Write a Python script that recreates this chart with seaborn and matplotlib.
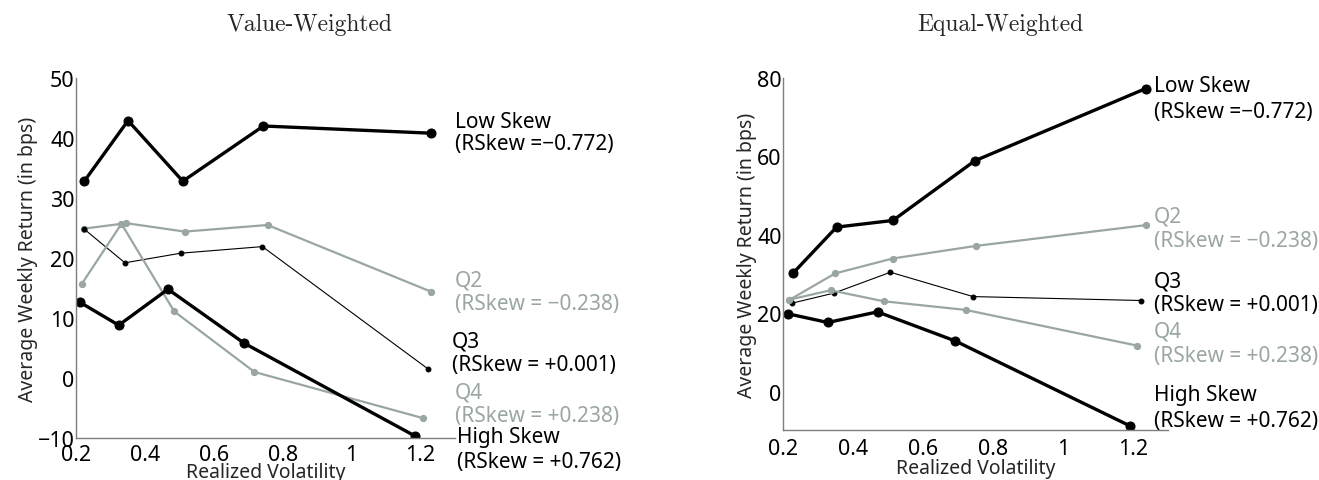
import matplotlib
matplotlib.use("Agg")
import matplotlib.pyplot as plt
import seaborn as sns
import pandas as pd

GRAY = "#9aa6a4"
SPINE = "#7f7f7f"

SERIES = ["Low Skew", "Q2", "Q3", "Q4", "High Skew"]
SKEW_LABELS = ["(RSkew =\u22120.772)", "(RSkew = \u22120.238)", "(RSkew = +0.001)",
               "(RSkew = +0.238)", "(RSkew = +0.762)"]

# value-weighted panel
vw_x = {
    "Low Skew": [0.224, 0.351, 0.510, 0.744, 1.231],
    "Q2": [0.224, 0.346, 0.516, 0.756, 1.230],
    "Q3": [0.222, 0.342, 0.504, 0.741, 1.222],
    "Q4": [0.217, 0.332, 0.485, 0.718, 1.208],
    "High Skew": [0.212, 0.324, 0.467, 0.688, 1.185],
}
vw_y = {
    "Low Skew": [32.8, 42.9, 32.8, 42.0, 40.8],
    "Q2": [24.9, 25.8, 24.4, 25.5, 14.4],
    "Q3": [24.9, 19.2, 20.8, 21.9, 1.5],
    "Q4": [15.7, 25.7, 11.1, 1.0, -6.7],
    "High Skew": [12.6, 8.8, 14.8, 5.8, -9.7],
}

# equal-weighted panel
ew_x = {
    "Low Skew": [0.228, 0.353, 0.514, 0.748, 1.236],
    "Q2": [0.219, 0.349, 0.513, 0.750, 1.236],
    "Q3": [0.225, 0.346, 0.507, 0.743, 1.223],
    "Q4": [0.217, 0.336, 0.488, 0.722, 1.212],
    "High Skew": [0.215, 0.328, 0.470, 0.692, 1.190],
}
ew_y = {
    "Low Skew": [30.2, 42.0, 43.7, 58.9, 77.3],
    "Q2": [23.5, 30.2, 34.0, 37.2, 42.5],
    "Q3": [22.6, 25.2, 30.5, 24.3, 23.3],
    "Q4": [23.5, 25.9, 23.1, 20.9, 11.8],
    "High Skew": [19.9, 17.7, 20.4, 13.0, -8.6],
}

STYLE = {
    "Low Skew": dict(color="black", lw=2.4, ms=6.5),
    "Q2": dict(color=GRAY, lw=1.6, ms=4.5),
    "Q3": dict(color="black", lw=0.8, ms=3.5),
    "Q4": dict(color=GRAY, lw=1.6, ms=4.5),
    "High Skew": dict(color="black", lw=2.4, ms=6.5),
}

sns.set_theme(style="white")
plt.rcParams["font.family"] = ["Noto Sans", "DejaVu Sans"]

fig = plt.figure(figsize=(13.19, 4.81), dpi=100)
W, H = 1319, 481


def draw_panel(ax, xs, ys, ylim, yticks, xpad, lpad):
    for name in SERIES:
        df = pd.DataFrame({"x": xs[name], "y": ys[name]})
        st = STYLE[name]
        sns.lineplot(data=df, x="x", y="y", ax=ax, sort=False, color=st["color"],
                     linewidth=st["lw"], marker="o", markersize=st["ms"],
                     markeredgecolor=st["color"], markerfacecolor=st["color"])
    ax.set_xlim(0.2, 1.3)
    ax.set_ylim(*ylim)
    ax.set_xticks([0.2, 0.4, 0.6, 0.8, 1.0, 1.2])
    ax.set_xticklabels(["0.2", "0.4", "0.6", "0.8", "1", "1.2"])
    ax.set_yticks(yticks)
    ax.set_yticklabels([str(t).replace("-", "\u2212") for t in yticks])
    for s in ["top", "right"]:
        ax.spines[s].set_visible(False)
    for s in ["left", "bottom"]:
        ax.spines[s].set_color(SPINE)
        ax.spines[s].set_linewidth(1.0)
    ax.tick_params(direction="in", length=3, width=0.8, color=SPINE,
                   labelsize=15.5, labelcolor="black")
    ax.tick_params(axis="y", pad=1)
    ax.tick_params(axis="x", pad=xpad)
    ax.set_xlabel("Realized Volatility", fontsize=14, labelpad=lpad)
    ax.set_ylabel("Average Weekly Return (in bps)", fontsize=14, labelpad=0)


ax1 = fig.add_axes([76 / W, 1 - 439 / H, (455 - 76) / W, (439 - 79) / H])
draw_panel(ax1, vw_x, vw_y, (-10, 50), [-10, 0, 10, 20, 30, 40, 50], xpad=4, lpad=-2)

ax2 = fig.add_axes([783 / W, 1 - 431 / H, (1168 - 783) / W, (431 - 79) / H])
draw_panel(ax2, ew_x, ew_y, (-9.7, 80), [0, 20, 40, 60, 80], xpad=6, lpad=-1)

fig.text(310 / W, 1 - 25 / H, "Value-Weighted", fontsize=17, family="cmr10",
         ha="center", va="center")
fig.text(1000 / W, 1 - 25 / H, "Equal-Weighted", fontsize=17, family="cmr10",
         ha="center", va="center")

# label positions (pixels): x, y of first line, y of second line
left_labels = [(455, 122, 145), (455, 281, 305), (452, 342, 366),
               (455, 393, 417), (457, 438, 463)]
right_labels = [(1154, 87, 113), (1154, 217, 242), (1154, 282, 306),
                (1154, 332, 357), (1154, 396, 422)]

for labels in (left_labels, right_labels):
    for name, skew, (px, py1, py2) in zip(SERIES, SKEW_LABELS, labels):
        col = STYLE[name]["color"]
        fig.text(px / W, 1 - py1 / H, name, fontsize=15, color=col, va="center")
        fig.text(px / W, 1 - py2 / H, skew, fontsize=15, color=col, va="center")

fig.savefig("out.png", dpi=100)
